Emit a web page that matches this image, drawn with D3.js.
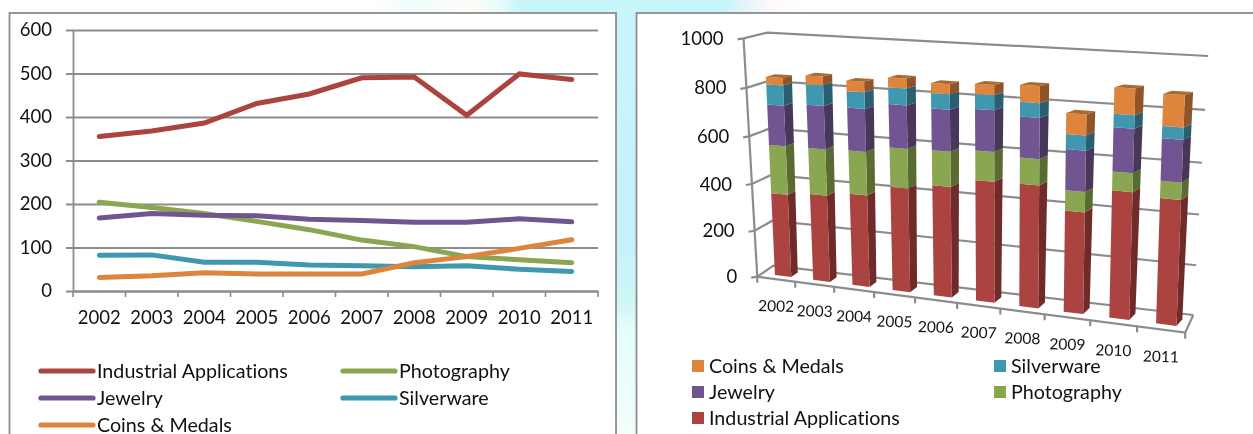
<!DOCTYPE html>
<html><head><meta charset="utf-8">
<script src="https://cdnjs.cloudflare.com/ajax/libs/d3/7.8.5/d3.min.js"></script>
<style>html,body{margin:0;padding:0;background:#fff;overflow:hidden}svg{display:block;filter:blur(0.4px)}text{font-family:Lato,"Open Sans",sans-serif;fill:#111;font-variant-ligatures:none}</style>
</head><body><svg id="c" width="1253" height="434"></svg>
<script>
const years=[2002,2003,2004,2005,2006,2007,2008,2009,2010,2011];
const industrial=[355,368,386,431,453,490,492,404,499,486];
const photography=[204,192,178,160,141,117,102,79,72,65];
const jewelry=[168,178,174,173,165,162,158,158,166,159];
const silverware=[82,83,66,66,60,58,56,58,50,45];
const coins=[31,35,42,39,39,39,65,79,98,118];
const seriesNames=["Industrial Applications","Photography","Jewelry","Silverware","Coins & Medals"];
const seriesValues=[industrial,photography,jewelry,silverware,coins];
const colors=["#ab4341","#8ba650","#705590","#3f98b0","#dd843d"];
const sideColors=["#6f2b2a","#5a6a33","#483759","#295f70","#8f5528"];
const topColor="#ab6a30";
const gridColor="#8c8c8c";

const svg=d3.select("#c");
const defs=svg.append("defs");
const bg=defs.append("linearGradient").attr("id","topBg");
[[0,"#fff"],[.3,"#fff"],[.327,"#f0fdfd"],[.375,"#fdfdf8"],[.4,"#e6fbfb"],[.415,"#c8f6fa"],[.579,"#c8f5fb"],[.595,"#e6f2fb"],[.615,"#fdf8fd"],[.64,"#fff"],[1,"#fff"]]
 .forEach(d=>bg.append("stop").attr("offset",d[0]).attr("stop-color",d[1]));
const bgV=defs.append("linearGradient").attr("id","midBg").attr("x1",0).attr("x2",0).attr("y1",0).attr("y2",1);
[[0,"#c8f5fb"],[.55,"#c6f2fb"],[.68,"#cdf6f6"],[.75,"#e4fdfb"],[1,"#f2fffd"]]
 .forEach(d=>bgV.append("stop").attr("offset",d[0]).attr("stop-color",d[1]));
svg.append("rect").attr("x",0).attr("y",0).attr("width",1253).attr("height",14).attr("fill","url(#topBg)");
svg.append("rect").attr("x",614).attr("y",12).attr("width",24).attr("height",422).attr("fill","url(#midBg)");
function panel(x,w){svg.append("rect").attr("x",x).attr("y",13).attr("width",w).attr("height",440).attr("fill","#fff").attr("stroke","#8c8c8c").attr("stroke-width",1.8);}
panel(9.5,606.5);panel(636.5,640);

/* ---- left: line chart ---- */
const lx=d3.scaleBand().domain(years).range([73,598]);
const ly=d3.scaleLinear().domain([0,600]).range([291,30]);
const gy=svg.append("g").attr("transform","translate(73,0)").call(d3.axisLeft(ly).tickValues(d3.range(0,601,100)).tickSize(0).tickPadding(21));
gy.select(".domain").attr("stroke",gridColor).attr("stroke-width",1.8);
gy.selectAll(".tick line").attr("x1",-7).attr("x2",525).attr("stroke",gridColor).attr("stroke-width",1.8);
gy.selectAll(".tick text").attr("font-size",18.5).style("font-family","Lato");
const gx=svg.append("g").attr("transform","translate(0,291)").call(d3.axisBottom(lx).tickSize(0).tickPadding(20));
gx.select(".domain").attr("stroke",gridColor).attr("stroke-width",1.8);
gx.selectAll(".tick line").remove();
gx.selectAll(".tick text").attr("font-size",18.5).style("font-family","Lato");
svg.append("g").selectAll("line").data(d3.range(0,11)).join("line")
 .attr("x1",d=>lx.range()[0]+d*lx.step()).attr("x2",d=>lx.range()[0]+d*lx.step())
 .attr("y1",291).attr("y2",297).attr("stroke",gridColor).attr("stroke-width",1.6);
const line=d3.line().x((d,i)=>lx(years[i])+lx.bandwidth()/2).y(d=>ly(d));
[0,1,2,3,4].forEach(s=>{
 svg.append("path").attr("d",line(seriesValues[s])).attr("fill","none").attr("stroke",colors[s]).attr("stroke-width",5).attr("stroke-linejoin","miter").attr("stroke-linecap","round");
});
const leftLegend=[[0,41,371],[1,343,371],[2,41,398],[3,343,398],[4,41,425]];
leftLegend.forEach(([s,x,y])=>{
 svg.append("line").attr("x1",x).attr("x2",x+52).attr("y1",y).attr("y2",y).attr("stroke",colors[s]).attr("stroke-width",5.2).attr("stroke-linecap","round");
 svg.append("text").attr("x",x+56).attr("y",y).attr("dy","0.35em").attr("font-size",19.7).text(seriesNames[s]);
});

/* ---- right: 3D stacked columns via projective mapping ---- */
function quadH(p){
 const [a,b,c,d]=p;
 const dx1=b[0]-c[0],dx2=d[0]-c[0],sx=a[0]-b[0]+c[0]-d[0];
 const dy1=b[1]-c[1],dy2=d[1]-c[1],sy=a[1]-b[1]+c[1]-d[1];
 const den=dx1*dy2-dx2*dy1;
 const g=(sx*dy2-dx2*sy)/den,h=(dx1*sy-sx*dy1)/den;
 const A=b[0]-a[0]+g*b[0],B=d[0]-a[0]+h*d[0],D=b[1]-a[1]+g*b[1],E=d[1]-a[1]+h*d[1];
 return (u,v)=>{const w=g*u+h*v+1;return [(A*u+B*v+a[0])/w,(D*u+E*v+a[1])/w];};
}
const zp=(x,y)=>[620+x/2.477,y/3];
const front=quadH([zp(340,830),zp(1400,998),zp(1420,186),zp(306,115)]);
const back=quadH([zp(380,797),zp(1420,945),zp(1457,168),zp(365,98)]);
const vScale=d3.scaleLinear().domain([0,200,400,600,800,1000]).range([0,.2,.4,.6,.8,1]);
const catScale=d3.scaleBand().domain(years).range([0,1]).paddingInner(0).paddingOuter(0);
const P=(u,val,d)=>{const v=vScale(val),f=front(u,v),b=back(u,v);return [f[0]+(b[0]-f[0])*d,f[1]+(b[1]-f[1])*d];};
const path=pts=>"M"+pts.map(p=>p[0].toFixed(2)+","+p[1].toFixed(2)).join("L")+"Z";
const open=pts=>"M"+pts.map(p=>p[0].toFixed(2)+","+p[1].toFixed(2)).join("L");
const g3=svg.append("g").attr("fill","none").attr("stroke",gridColor).attr("stroke-width",2.2);
const gridVals=[0,200,400,600,800,1000];
gridVals.forEach(v=>{
 g3.append("path").attr("d",open([[P(0,v,0)[0]-6,P(0,v,0)[1]+1],P(0,v,0),P(0,v,1),P(1,v,1)]));
});
g3.append("path").attr("d",open([P(0,0,0),P(0,1000,0)]));
g3.append("path").attr("d",open([P(0,0,0),P(1,0,0),P(1,0,1)]));
d3.range(0,11).forEach(i=>{const u=i/10,p=P(u,0,0);g3.append("path").attr("d",open([p,[p[0],p[1]+6]]));});
gridVals.forEach(v=>{
 const p=P(0,v,0);
 svg.append("text").attr("x",p[0]-20).attr("y",p[1]).attr("dy","0.35em").attr("text-anchor","end").attr("font-size",18.5).text(v);
});
const d0=.3,d1=.7,uL=.34,uR=.77;
years.forEach((yr,i)=>{
 const a=catScale(yr),w=catScale.bandwidth(),ua=a+uL*w,ub=a+uR*w;
 const du=w*.05*i/(years.length-1);
 let cum=0;
 seriesValues.forEach((vals,s)=>{
  const lo=cum,hi=cum+vals[i];cum=hi;
  svg.append("path").attr("d",path([P(ub,lo,d0),P(ub+du,lo,d1),P(ub+du,hi,d1),P(ub,hi,d0)])).attr("fill",sideColors[s]);
  svg.append("path").attr("d",path([P(ua,lo,d0),P(ub,lo,d0),P(ub,hi,d0),P(ua,hi,d0)])).attr("fill",colors[s]);
 });
 svg.append("path").attr("d",path([P(ua,cum,d0),P(ub,cum,d0),P(ub+du,cum,d1),P(ua+du,cum,d1)])).attr("fill",topColor);
 const m=P(a+w/2,0,0);
 svg.append("text").attr("text-anchor","middle").attr("dy","0.35em").attr("font-size",15.5)
  .attr("transform",`translate(${m[0]},${m[1]+27}) rotate(1.5)`).text(yr);
});
const rightLegend=[[4,692,366],[3,994,366],[2,692,392],[1,994,392],[0,692,418]];
rightLegend.forEach(([s,x,y])=>{
 svg.append("rect").attr("x",x).attr("y",y-6).attr("width",12).attr("height",12).attr("fill",colors[s]);
 svg.append("text").attr("x",x+17).attr("y",y).attr("dy","0.35em").attr("font-size",19.7).text(seriesNames[s]);
});
</script></body></html>
